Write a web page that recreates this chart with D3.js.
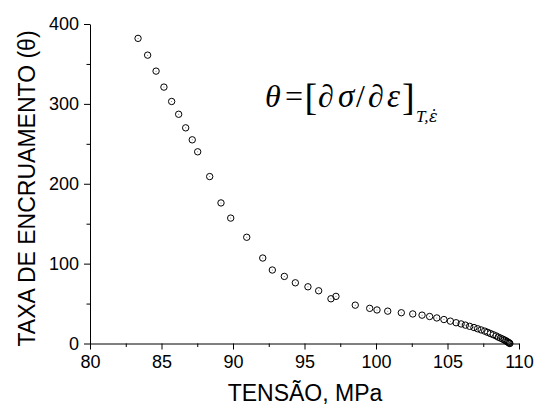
<!DOCTYPE html>
<html>
<head>
<meta charset="utf-8">
<script src="https://cdn.jsdelivr.net/npm/d3@7/dist/d3.min.js"></script>
<style>
  html, body { margin: 0; padding: 0; background: #fff; }
  svg { display: block; }
  .axis text { font-family: "Liberation Sans", Arial, sans-serif; font-size: 18px; fill: #000; }
  .axis path, .axis line { stroke: #000; stroke-width: 1; }
  .title { font-family: "Liberation Sans", Arial, sans-serif; font-size: 23px; fill: #000; }
  .eq { font-family: "Liberation Serif", "Times New Roman", serif; fill: #000; }
</style>
</head>
<body>
<svg id="chart" width="537" height="411"></svg>
<script>
// Work-hardening rate versus flow stress
const tensao = [
  83.36, 84.03, 84.62, 85.17, 85.71, 86.20, 86.69, 87.15, 87.53, 88.37,
  89.16, 89.84, 90.96, 92.08, 92.75, 93.59, 94.36, 95.24, 95.99, 96.85,
  97.20, 98.55, 99.56, 100.07, 100.82, 101.77, 102.57, 103.22, 103.75, 104.25,
  104.75, 105.20, 105.60, 105.95, 106.25, 106.55, 106.85, 107.10, 107.35, 107.60,
  107.80, 108.00, 108.20, 108.40, 108.55, 108.70, 108.85, 108.97, 109.07, 109.15,
  109.22, 109.28, 109.33, 109.36
];
const taxa = [
  382, 361, 341, 321, 303, 287, 270, 255, 240, 209,
  176, 157, 133, 107, 92, 84, 76, 71, 66, 56,
  59, 48, 44, 42, 40.5, 38.5, 37, 35.5, 33.8, 32,
  30, 28, 26, 24.5, 23, 21.5, 20, 18.5, 17, 15.5,
  14, 12.5, 11, 9.5, 8, 6.8, 5.6, 4.5, 3.5, 2.6,
  1.8, 1.1, 0.5, 0
];
const xTicks = [80, 85, 90, 95, 100, 105, 110];
const xMinor = [82.5, 87.5, 92.5, 97.5, 102.5, 107.5];
const yTicks = [0, 100, 200, 300, 400];
const yMinor = [50, 150, 250, 350];
const xLabel = "TENSÃO, MPa";
const yLabel = "TAXA DE ENCRUAMENTO (θ)";

const svg = d3.select("#chart");
const x = d3.scaleLinear().domain([80, 110]).range([90, 519]);
const y = d3.scaleLinear().domain([0, 400]).range([343.5, 24]);

// minor ticks
svg.append("g").attr("class", "axis")
  .attr("transform", `translate(0,${y(0)})`)
  .call(d3.axisBottom(x).tickValues(xMinor).tickSize(3.5).tickSizeOuter(0).tickFormat(""))
  .select(".domain").remove();
svg.append("g").attr("class", "axis")
  .attr("transform", `translate(${x(80)},0)`)
  .call(d3.axisLeft(y).tickValues(yMinor).tickSize(3.5).tickSizeOuter(0).tickFormat(""))
  .select(".domain").remove();

// major axes
svg.append("g").attr("class", "axis")
  .attr("transform", `translate(0,${y(0)})`)
  .call(d3.axisBottom(x).tickValues(xTicks).tickSize(6).tickSizeOuter(0).tickPadding(6).tickFormat(d3.format("d")));
svg.append("g").attr("class", "axis")
  .attr("transform", `translate(${x(80)},0)`)
  .call(d3.axisLeft(y).tickValues(yTicks).tickSize(6).tickSizeOuter(0).tickPadding(5).tickFormat(d3.format("d")));

// axis titles
svg.append("text").attr("class", "title")
  .attr("x", 305).attr("y", 401).attr("text-anchor", "middle")
  .text(xLabel);
svg.append("text").attr("class", "title")
  .attr("transform", "translate(35,188.5) rotate(-90)")
  .attr("text-anchor", "middle")
  .text(yLabel);

// data points: open circles
const pts = svg.append("g");
const data = tensao.map((t, i) => ({ t, v: taxa[i] }));
pts.selectAll("circle.pt").data(data).join("circle")
  .attr("class", "pt")
  .attr("cx", d => x(d.t)).attr("cy", d => y(d.v))
  .attr("r", 3.2)
  .attr("fill", "none").attr("stroke", "#000").attr("stroke-width", 1);
pts.selectAll("circle.dot").data(data).join("circle")
  .attr("class", "dot")
  .attr("cx", d => x(d.t)).attr("cy", d => y(d.v))
  .attr("r", 0.5).attr("fill", "#666");

// definition of the work-hardening rate, set as one text with positioned pieces
const base = 107;
const parts = [
  { s: "θ", x: 265, y: base, it: true, size: 32 },
  { s: "=", x: 285, y: base, it: false, size: 32 },
  { s: "[", x: 304.5, y: 110, it: false, size: 38 },
  { s: "∂", x: 318, y: base, it: true, size: 32 },
  { s: "σ", x: 338, y: base, it: true, size: 33 },
  { s: "/", x: 356, y: base, it: false, size: 32 },
  { s: "∂", x: 368, y: base, it: true, size: 32 },
  { s: "ε", x: 387, y: base, it: true, size: 33 },
  { s: "]", x: 402, y: 110, it: false, size: 38 },
  { s: "T,", x: 416, y: 122, it: true, size: 17 },
  { s: "ε\u0307", x: 429, y: 122, it: true, size: 16, fam: "DejaVu Serif" }
];
const eq = svg.append("text").attr("class", "eq");
parts.forEach(p => {
  const t = eq.append("tspan")
    .attr("x", p.x).attr("y", p.y)
    .attr("font-size", p.size)
    .attr("font-style", p.it ? "italic" : "normal")
    .text(p.s);
  if (p.fam) t.attr("font-family", p.fam);
});
</script>
</body>
</html>
